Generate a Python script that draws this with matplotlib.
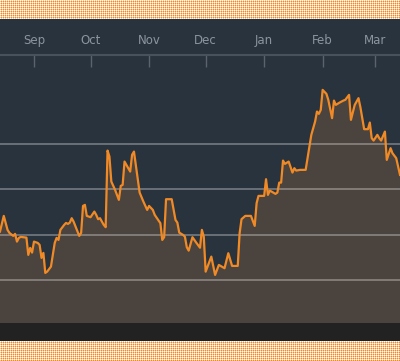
""" Area chart of a daily series, Aug to Mar
"""
import numpy as np
import matplotlib
matplotlib.use("Agg")
import matplotlib.pyplot as plt
import matplotlib.dates as mdates
from matplotlib.patches import Rectangle

# Days since 14 Aug 2018, and the values
jours = [0, 2, 4, 5, 7, 8, 9, 10, 11, 14, 15, 16, 17, 18, 20, 21, 22, 23, 24, 25,
         27, 29, 30, 31, 32, 34, 35, 36, 37, 38, 39, 42, 43, 44, 45, 46, 48, 50, 51, 52,
         53, 55, 56, 57, 58, 59, 61, 63, 64, 65, 66, 67, 69, 70, 71, 74, 76, 78, 79, 81,
         82, 85, 86, 87, 88, 91, 93, 94, 95, 97, 98, 99, 100, 102, 104, 106, 107, 108, 109, 112,
         114, 116, 119, 121, 123, 126, 127, 128, 130, 133, 135, 136, 137, 140, 141, 142, 143, 146, 147, 148,
         149, 150, 151, 153, 155, 156, 157, 159, 162, 163, 165, 167, 168, 169, 170, 171, 173, 174, 176, 177,
         178, 180, 182, 183, 185, 186, 188, 190, 191, 193, 195, 196, 197, 198, 200, 201, 202, 204, 205, 207,
         208, 210, 212]
valeurs = [20.66, 24.12, 21.03, 20.37, 19.71, 20.15, 18.45, 19.27, 19.49, 19.33,
           15.52, 17.06, 16.02, 18.45, 18.16, 17.72, 14.85, 15.96, 11.54, 11.83,
           12.93, 18.16, 19.27, 18.82, 21.03, 22.13, 22.57, 22.35, 22.64, 23.61,
           22.86, 19.71, 20.37, 26.32, 26.55, 24.12, 23.83, 25.07, 24.34, 23.39,
           23.61, 22.13, 21.63, 38.52, 37.2, 31.69, 29.85, 27.65, 30.74, 30.96,
           36.1, 35.37, 33.89, 37.58, 38.3, 29.26, 27.27, 25.44, 26.32, 25.44,
           24.34, 22.51, 18.82, 19.42, 27.8, 27.8, 23.24, 22.64, 20.43, 19.93,
           19.55, 17.21, 16.46, 19.42, 18.23, 17.1, 21.03, 19.55, 11.83, 15.14,
           11.1, 13.31, 12.58, 15.89, 13.09, 13.09, 20.3, 23.39, 24.12, 24.12,
           21.91, 26.92, 28.53, 28.53, 32.21, 28.75, 29.7, 28.97, 29.26, 31.46,
           31.46, 36.32, 35.59, 36.1, 33.67, 34.64, 34.11, 34.27, 34.27, 36.85,
           41.99, 44.92, 47.13, 46.62, 47.5, 51.91, 51.03, 49.71, 45.67, 49.55,
           48.6, 49.11, 49.55, 49.71, 50.81, 45.3, 48.6, 50.08, 48.1, 43.24,
           43.24, 44.7, 41.26, 40.73, 41.99, 41.26, 40.73, 42.71, 36.47, 39.05,
           37.95, 36.85, 33.16]
grille = [10, 20, 30, 40]

debut = np.datetime64('2018-08-14')
dates = debut + np.array(jours).astype('timedelta64[D]')

fond = '#29333e'
orange = '#f08a26'

fig = plt.figure(figsize=(4, 3.61), dpi=100, facecolor=fond)

# Bandes pointillées haut et bas (points orange sur blanc), milieu transparent
motif = np.zeros((361, 400, 4), dtype=np.uint8)
for r0, r1 in [(0, 19), (341, 361)]:
    motif[r0:r1, :] = [255, 255, 255, 255]
    motif[r0 + 1:r1:2, :, :3] = [248, 200, 150]
    motif[r0:r1, 1::2, :3] = [248, 200, 150]
    motif[r0 + 1:r1:2, 1::2, :3] = [240, 138, 38]
fig.figimage(motif, xo=0, yo=0, origin='upper', resample=False)

ax = fig.add_axes([0, 38/361, 1, 268/361])
ax.set_facecolor(fond)

ax.fill_between(dates, valeurs, 0, color='#4b433e', lw=0, zorder=1)
for g in grille:
    ax.axhline(g, color='white', alpha=0.3, lw=1.4, zorder=2)
ax.plot(dates, valeurs, color=orange, lw=1.6, zorder=3)

ax.set_xlim(debut, debut + np.timedelta64(212, 'D'))
ax.set_ylim(0.5, 59.6)

# Axe des dates en haut, graduations vers l'intérieur
ax.xaxis.set_major_locator(mdates.MonthLocator())
ax.xaxis.set_major_formatter(mdates.DateFormatter('%b'))
ax.xaxis.tick_top()
ax.tick_params(axis='x', direction='in', length=8.5, width=1, color='#5b636c',
               labelcolor='#8c959e', labelsize=8.5, pad=5.5)
ax.set_yticks([])
for side in ['left', 'right', 'bottom']:
    ax.spines[side].set_visible(False)
ax.spines['top'].set_color('#48525c')
ax.spines['top'].set_linewidth(1.5)

# Bande sombre sous le graphique
fig.add_artist(Rectangle((0, 20/361), 1, 18/361, transform=fig.transFigure,
                         color='#222222', lw=0))

fig.savefig('out.png', dpi=100, facecolor=fond)
plt.close(fig)
